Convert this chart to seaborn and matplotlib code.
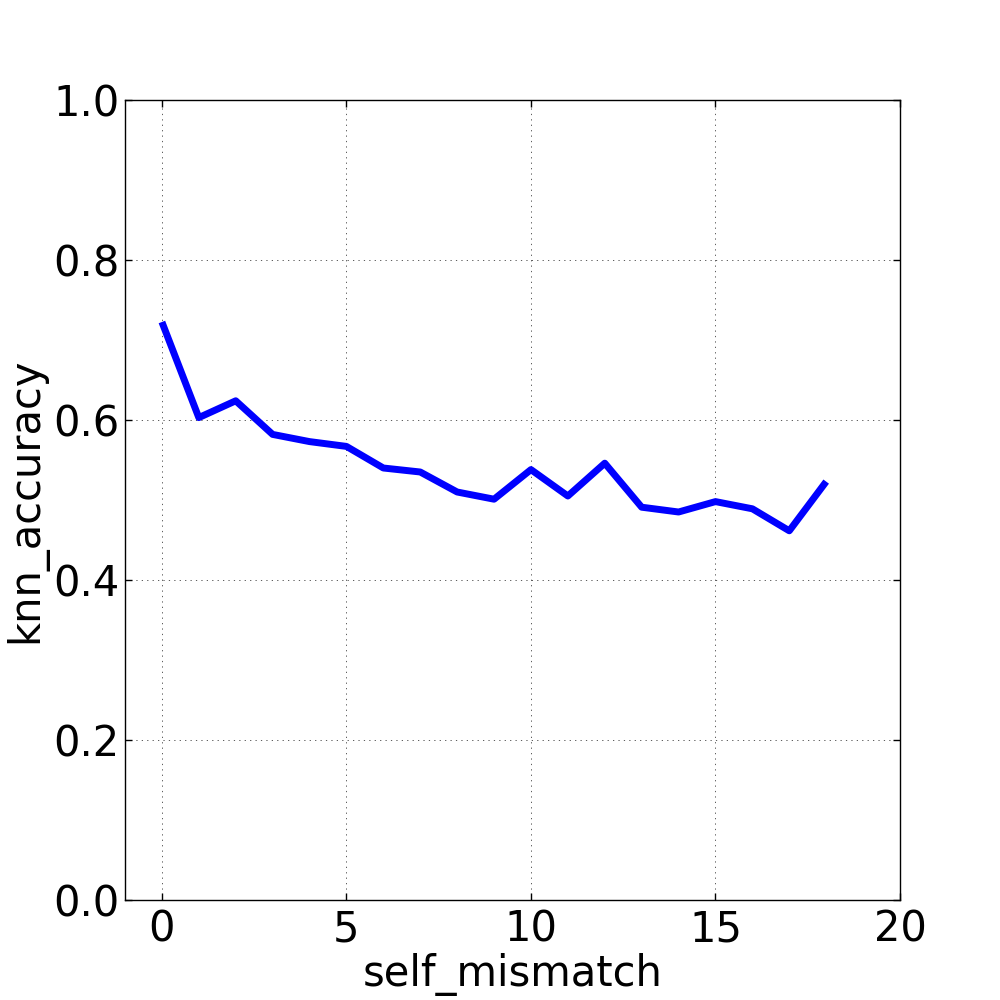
import matplotlib
matplotlib.use("Agg")
import matplotlib.pyplot as plt
import seaborn as sns
import pandas as pd

self_mismatch = list(range(19))
knn_accuracy = [0.7225, 0.603, 0.624, 0.582, 0.573, 0.567, 0.540, 0.535, 0.510, 0.501,
                0.538, 0.505, 0.546, 0.491, 0.485, 0.498, 0.489, 0.4615, 0.523]

df = pd.DataFrame({"self_mismatch": self_mismatch, "knn_accuracy": knn_accuracy})

plt.rcParams['font.family'] = ['DejaVu Sans']
fig = plt.figure(figsize=(10, 10), dpi=100)
ax = fig.add_axes([0.125, 0.1, 0.775, 0.8])
sns.lineplot(data=df, x="self_mismatch", y="knn_accuracy", ax=ax, color="blue",
             linewidth=5, solid_capstyle="butt")
ax.set_xlim(-1, 20)
ax.set_ylim(0, 1.0)
ax.set_xticks([0, 5, 10, 15, 20])
ax.set_yticks([0.0, 0.2, 0.4, 0.6, 0.8, 1.0])
ax.grid(True, color="0.25", linestyle=(0, (1.5, 5)), linewidth=0.6)
ax.tick_params(direction="in", length=5, width=1, labelsize=30, top=True, right=True)
ax.tick_params(axis="y", pad=4)
ax.tick_params(axis="x", pad=6)
ax.set_xlabel("self_mismatch", fontsize=30, labelpad=2)
ax.set_ylabel("knn_accuracy", fontsize=30)
for s in ax.spines.values():
    s.set_color("black")
    s.set_linewidth(1)
fig.savefig("out.png", dpi=100, facecolor="white")
